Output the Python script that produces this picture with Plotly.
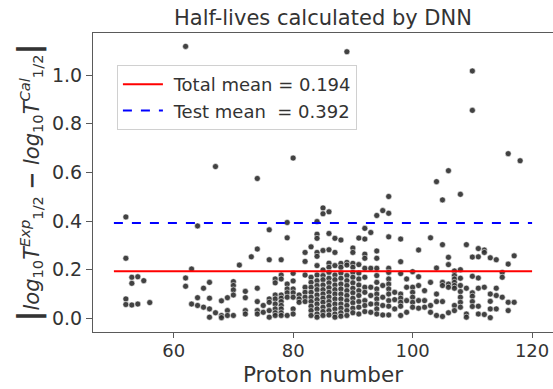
import plotly.graph_objects as go

# Proton number columns and the deviations |log10 T_exp - log10 T_cal| read for each column
proton_columns = [52, 53, 54, 55, 56, 62, 63, 64, 65, 66, 67, 68, 69, 70, 71, 72, 73, 74, 75, 76,
                  77, 78, 79, 80, 81, 82, 83, 84, 85, 86, 87, 88, 89, 90, 91, 92, 93, 94, 95, 96,
                  97, 98, 99, 100, 101, 102, 103, 104, 105, 106, 107, 108, 109, 110, 111, 112,
                  113, 114, 115, 116, 117, 118]

deviation_by_column = [
    [0.417, 0.247, 0.080, 0.057],
    [0.169, 0.144, 0.055],
    [0.171, 0.059],
    [0.155],
    [0.065],
    [1.118, 0.166, 0.132],
    [0.203, 0.059],
    [0.380, 0.085, 0.053],
    [0.124, 0.046],
    [0.148, 0.083, 0.039, 0.005],
    [0.624, 0.023],
    [0.072, 0.012, 0.003],
    [0.085, 0.032, 0.012],
    [0.151, 0.135, 0.117, 0.096, 0.012],
    [0.219],
    [0.111, 0.085, 0.032, 0.018],
    [0.253],
    [0.575, 0.285, 0.124, 0.069, 0.032, 0.018],
    [0.053, 0.025],
    [0.364, 0.241, 0.080, 0.066, 0.032, 0.005],
    [0.162, 0.146, 0.096, 0.080, 0.059, 0.039, 0.023, 0.012],
    [0.241, 0.178, 0.162, 0.096, 0.083, 0.069, 0.053, 0.039, 0.023, 0.012],
    [0.394, 0.331, 0.141, 0.121, 0.105, 0.087, 0.012],
    [0.659, 0.185, 0.154, 0.121, 0.105, 0.087, 0.039, 0.018],
    [0.096, 0.080, 0.066],
    [0.271, 0.234, 0.178, 0.128, 0.107, 0.087, 0.069],
    [0.294, 0.169, 0.148, 0.128, 0.107, 0.087, 0.069, 0.050, 0.032, 0.012],
    [0.398, 0.346, 0.329, 0.271, 0.255, 0.217, 0.178, 0.155, 0.135, 0.118, 0.096, 0.077, 0.059, 0.039, 0.018, 0.005],
    [0.454, 0.430, 0.279, 0.199, 0.176, 0.159, 0.137, 0.118, 0.100, 0.083, 0.066, 0.046, 0.028, 0.012],
    [0.438, 0.349, 0.282, 0.227, 0.210, 0.189, 0.165, 0.146, 0.126, 0.107, 0.088, 0.069, 0.053, 0.032, 0.014],
    [0.329, 0.271, 0.217, 0.178, 0.159, 0.137, 0.118, 0.100, 0.080, 0.059, 0.039, 0.018, 0.005],
    [0.322, 0.226, 0.210, 0.186, 0.165, 0.141, 0.121, 0.100, 0.080, 0.059, 0.042, 0.023, 0.009],
    [1.096, 0.230, 0.219, 0.176, 0.155, 0.135, 0.114, 0.094, 0.073, 0.053, 0.032, 0.012],
    [0.289, 0.271, 0.226, 0.210, 0.189, 0.169, 0.146, 0.124, 0.105, 0.083, 0.064, 0.042, 0.023],
    [0.330, 0.221, 0.186, 0.162, 0.137, 0.114, 0.094, 0.069, 0.046, 0.018],
    [0.370, 0.326, 0.264, 0.247, 0.206, 0.169, 0.128, 0.107, 0.073, 0.053, 0.028],
    [0.353, 0.206, 0.128, 0.094, 0.059, 0.025],
    [0.423, 0.277, 0.247, 0.206, 0.176, 0.148, 0.121, 0.100, 0.080, 0.059, 0.039, 0.018],
    [0.443, 0.135, 0.087, 0.053, 0.014],
    [0.501, 0.432, 0.335, 0.206, 0.189, 0.162, 0.141, 0.121, 0.100, 0.073, 0.050, 0.014],
    [0.107, 0.077, 0.039],
    [0.326, 0.233, 0.184, 0.100, 0.083, 0.066, 0.050, 0.012],
    [0.162, 0.128, 0.073, 0.025],
    [0.192, 0.128, 0.107, 0.087, 0.066, 0.046],
    [0.281, 0.171, 0.135, 0.073, 0.042],
    [0.114, 0.073, 0.046],
    [0.331, 0.148, 0.053, 0.025],
    [0.562, 0.207, 0.100, 0.069, 0.012],
    [0.487, 0.303, 0.148, 0.135, 0.069, 0.008],
    [0.607, 0.251, 0.221, 0.141, 0.128, 0.023],
    [0.195, 0.176, 0.162, 0.148, 0.135, 0.124, 0.053, 0.032],
    [0.510, 0.200, 0.165, 0.135, 0.110, 0.087, 0.066, 0.046],
    [0.303, 0.124, 0.018, 0.005],
    [1.017, 0.855, 0.252, 0.173, 0.105, 0.091, 0.069, 0.049],
    [0.287, 0.253, 0.166, 0.124, 0.050, 0.018],
    [0.281, 0.271, 0.128, 0.016],
    [0.249, 0.100, 0.070, 0.039, 0.003],
    [0.241, 0.124, 0.094, 0.039],
    [0.189, 0.169, 0.087],
    [0.677, 0.223, 0.066, 0.032],
    [0.257, 0.066],
    [0.648],
]

mean_x_range = [50, 120]
total_mean = 0.194
test_mean = 0.392
x_ticks = [60, 80, 100, 120]
y_ticks = [0.0, 0.2, 0.4, 0.6, 0.8, 1.0]

xs, ys = [], []
for z, col in zip(proton_columns, deviation_by_column):
    for v in col:
        xs.append(z)
        ys.append(v)

FONT = "DejaVu Sans"
TXT = "#333333"
AX = "#5a5a5a"

fig = go.Figure()
fig.add_trace(go.Scatter(
    x=xs, y=ys, mode="markers", showlegend=False,
    marker=dict(size=6, color="rgba(45,45,45,0.9)",
                line=dict(width=0.7, color="rgba(255,255,255,0.8)")),
))
fig.add_trace(go.Scatter(
    x=mean_x_range, y=[total_mean, total_mean], mode="lines",
    line=dict(color="#ff0000", width=2), name=" Total mean = 0.194",
))
fig.add_trace(go.Scatter(
    x=mean_x_range, y=[test_mean, test_mean], mode="lines",
    line=dict(color="#0000ff", width=2, dash="dash"), name=" Test mean&nbsp;&nbsp;= 0.392",
))

ytitle = ("<span style='font-size:30px'><b>|</b></span><i>log</i><sub>10</sub><i>T</i>"
          "<sup><i>Exp</i></sup><sub>1/2</sub> <b>−</b> <i>log</i><sub>10</sub><i>T</i>"
          "<sup><i>Cal</i></sup><sub>1/2</sub><span style='font-size:30px'><b>|</b></span>")

fig.update_layout(
    width=553, height=389,
    margin=dict(l=93, r=0, t=33, b=57),
    paper_bgcolor="white", plot_bgcolor="white",
    font=dict(family=FONT, color=TXT, size=19),
    title=dict(text="Half-lives calculated by DNN", x=0.584, xanchor="center",
               y=0.955, yanchor="middle", font=dict(size=21, color=TXT)),
    showlegend=True,
    legend=dict(x=0.052, y=0.893, xanchor="left", yanchor="top",
                bgcolor="white", bordercolor="#d0d0d0", borderwidth=1,
                font=dict(size=18, color=TXT), tracegroupgap=0,
                itemwidth=40),
    xaxis=dict(range=[46.5, 123.5], tickvals=x_ticks, ticks="outside", ticklen=5,
               tickwidth=1.2, tickcolor=AX, showline=True, linecolor=AX, linewidth=1.2,
               mirror=True, showgrid=False, zeroline=False, ticklabelstandoff=-3,
               tickfont=dict(size=18, color=TXT)),
    yaxis=dict(range=[-0.056, 1.173], tickvals=y_ticks, tickformat=".1f", ticks="outside",
               ticklen=6, tickwidth=1.2, tickcolor=AX, showline=True, linecolor=AX,
               linewidth=1.2, mirror=True, showgrid=False, zeroline=False,
               title=dict(text=ytitle, font=dict(size=21, color=TXT), standoff=6),
               tickfont=dict(size=19, color=TXT)),
    annotations=[dict(text="Proton number", xref="paper", yref="paper",
                      x=0.5, y=-0.19, xanchor="center", yanchor="bottom",
                      showarrow=False, font=dict(size=21.5, color=TXT))],
)

fig.write_html("out.html")
